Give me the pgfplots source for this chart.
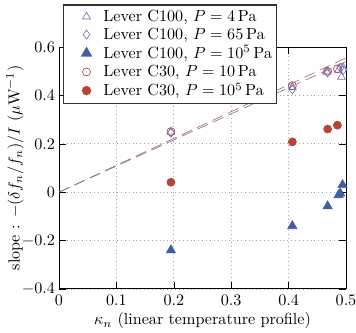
\documentclass[border=0pt]{standalone}
\usepackage{pgfplots}
\pgfplotsset{compat=1.18}
\definecolor{cblue}{HTML}{3F5FA0}
\definecolor{lblue}{HTML}{6D78B8}
\definecolor{cred}{HTML}{B5443A}
\pgfplotsset{myleg/.style={legend image code/.code={%
  \path (-13pt,0pt) (8pt,0pt);
  \draw[##1] plot coordinates {(0pt,0pt)};}}}
\begin{document}
\begin{tikzpicture}
\begin{axis}[
  name=ax,
  scale only axis,
  width=178pt, height=150pt,
  xmin=0, xmax=0.5, ymin=-0.4, ymax=0.6,
  xtick={0,0.1,0.2,0.3,0.4,0.5},
  ytick={-0.4,-0.2,0,0.2,0.4,0.6},
  yticklabels={$-0.4$,$-0.2$,$0$,$0.2$,$0.4$,$0.6$},
  xticklabels={$0$,$0.1$,$0.2$,$0.3$,$0.4$,$0.5$},
  yticklabel style={xshift=1pt},
  grid=major,
  major grid style={dotted, gray!70},
  tick style={black},
  axis line style={line width=0.6pt},
  xlabel={$\kappa_n$ (linear temperature profile)},
  ylabel={slope : $-(\delta f_n/f_n)/I$ ($\mu$W$^{-1}$)},
  xlabel style={yshift=2pt},
  ylabel style={yshift=-8pt},
  legend style={at={(0.015,1.174)}, anchor=north west, draw=black!80, line width=0.8pt, font=\normalsize, inner sep=1pt, outer sep=0pt, row sep=-1.5pt, fill=white},
  legend cell align=left,
]
\addplot[only marks, mark=triangle, mark size=2.8pt, lblue, thin, myleg] coordinates {
 (0.195,0.25) (0.4065,0.434) (0.466,0.498) (0.487,0.505) (0.492,0.476) (0.495,0.515)};
\addlegendentry{Lever C100, $P=4\,\mathrm{Pa}$}
\addplot[only marks, mark=diamond, mark size=2.8pt, lblue, thin, myleg] coordinates {
 (0.195,0.245) (0.4065,0.425) (0.468,0.495) (0.49,0.515) (0.495,0.505)};
\addlegendentry{Lever C100, $P=65\,\mathrm{Pa}$}
\addplot[only marks, mark=triangle*, mark size=3.3pt, cblue, myleg] coordinates {
 (0.195,-0.24) (0.4065,-0.14) (0.468,-0.058) (0.487,-0.012) (0.49,-0.005) (0.494,0.03)};
\addlegendentry{Lever C100, $P=10^5\,\mathrm{Pa}$}
\addplot[only marks, mark=o, mark size=2.5pt, cred, thin, myleg] coordinates {
 (0.195,0.25) (0.4065,0.44) (0.468,0.50) (0.485,0.51)};
\addlegendentry{Lever C30, $P=10\,\mathrm{Pa}$}
\addplot[only marks, mark=*, mark size=2.5pt, cred, myleg] coordinates {
 (0.195,0.041) (0.4065,0.208) (0.468,0.261) (0.485,0.277)};
\addlegendentry{Lever C30, $P=10^5\,\mathrm{Pa}$}
\addplot[cred!85, dash pattern=on 7pt off 3.5pt, thin, forget plot] coordinates {(0,0) (0.5,0.555)};
\addplot[lblue, dash pattern=on 7pt off 3.5pt, thin, forget plot] coordinates {(0,0) (0.5,0.54)};
\end{axis}
\pgfresetboundingbox
\path[use as bounding box] ([xshift=-36.6pt,yshift=-27.3pt]ax.south west) rectangle ([xshift=6.2pt,yshift=29.2pt]ax.north east);
\end{tikzpicture}
\end{document}
